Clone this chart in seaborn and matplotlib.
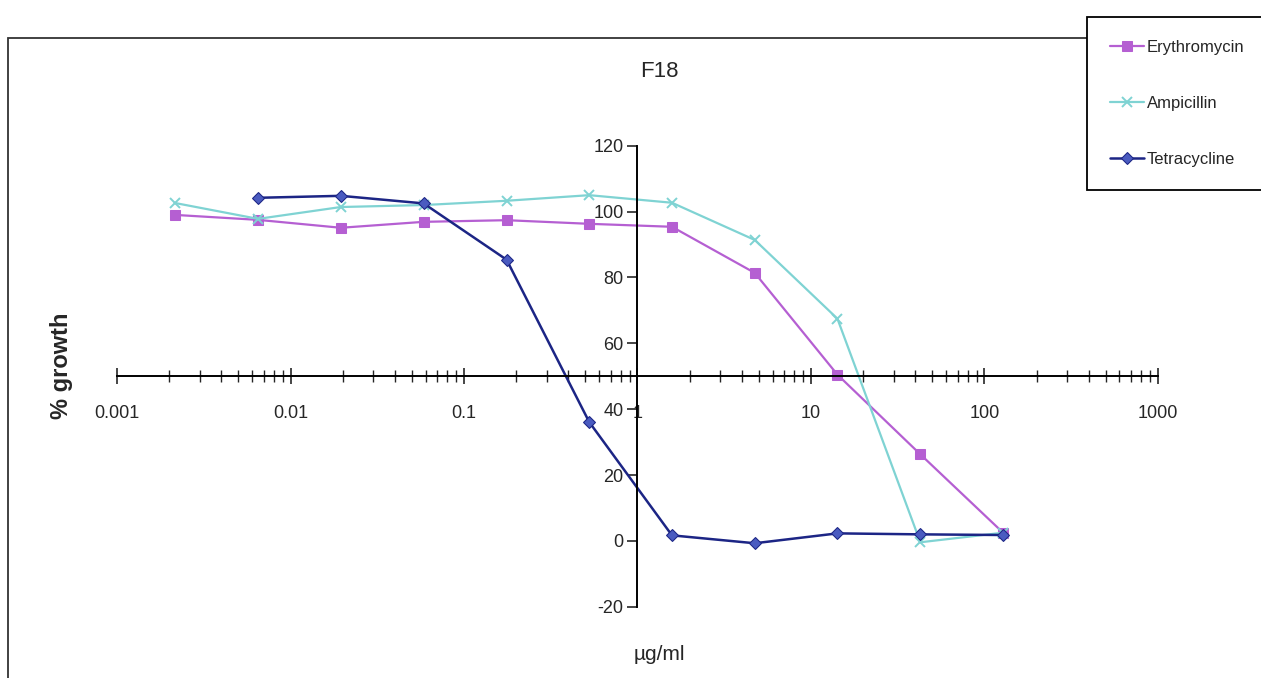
import numpy as np
import pandas as pd
import seaborn as sns
import matplotlib.pyplot as plt
from matplotlib.patches import Rectangle
from matplotlib.ticker import LogLocator, FixedLocator, NullFormatter

# serial 3-fold dilutions, ug/ml
conc = [128, 42.7, 14.2, 4.74, 1.58, 0.527, 0.176, 0.0585, 0.0195, 0.0065, 0.00217]

erythromycin = [2.5, 26.3, 50.5, 81.4, 95.4, 96.3, 97.4, 96.9, 95.1, 97.5, 99.0]
ampicillin = [2.5, -0.4, 67.5, 91.4, 102.7, 105.0, 103.3, 102.0, 101.4, 97.8, 102.6]
tetracycline = [1.8, 2.0, 2.3, -0.7, 1.7, 36.1, 85.4, 102.5, 104.8, 104.2]

x_ticks = [0.001, 0.01, 0.1, 1, 10, 100, 1000]
x_labels = ["0.001", "0.01", "0.1", "1", "10", "100", "1000"]
y_ticks = [-20, 0, 20, 40, 60, 80, 100, 120]

sns.set_style("white")
plt.rcParams['font.family'] = ['Liberation Sans', 'DejaVu Sans']
plt.rcParams['axes.unicode_minus'] = False

fig = plt.figure(figsize=(12.61, 6.78), dpi=100)
ax = fig.add_axes([0.0928, 0.105, 0.8255, 0.68])

# chart-area border (Excel style)
fig.patches.append(Rectangle((8 / 1261, -0.2), 1.2, 1.2 - 38 / 678,
                             transform=fig.transFigure, fill=False,
                             edgecolor="#333333", linewidth=1.3, zorder=0))

sns.lineplot(x=conc, y=erythromycin, ax=ax, color="#B55FD2", marker="s",
             markersize=7, markeredgecolor="#B55FD2", linewidth=1.6, label="Erythromycin")
sns.lineplot(x=conc, y=ampicillin, ax=ax, color="#7FD3D3", marker="x",
             markersize=7, markeredgewidth=1.4, markeredgecolor="#7FD3D3",
             linewidth=1.6, label="Ampicillin")
sns.lineplot(x=conc[:len(tetracycline)], y=tetracycline, ax=ax, color="#1C2585",
             marker="D", markersize=6, markerfacecolor="#4A5BC0", markeredgecolor="#1C2585",
             linewidth=1.8, label="Tetracycline")

ax.set_xscale("log")
ax.set_xlim(0.001, 1000)
ax.set_ylim(-20, 120)

# axes crossing like the Excel chart
ax.spines["left"].set_position(("data", 1))
ax.spines["bottom"].set_position(("data", 50))
ax.spines["top"].set_visible(False)
ax.spines["right"].set_visible(False)
for s in ["left", "bottom"]:
    ax.spines[s].set_color("black")
    ax.spines[s].set_linewidth(1.4)

ax.xaxis.set_major_locator(FixedLocator(x_ticks))
ax.set_xticklabels(x_labels)
ax.xaxis.set_minor_locator(LogLocator(base=10, subs=np.arange(2, 10), numticks=20))
ax.xaxis.set_minor_formatter(NullFormatter())
ax.tick_params(axis="x", which="major", direction="inout", length=12, width=1.2,
               pad=15, labelsize=13, bottom=True)
ax.tick_params(axis="x", which="minor", direction="inout", length=9, width=1.0, bottom=True)

ax.set_yticks(y_ticks)
ax.tick_params(axis="y", direction="out", length=7, width=1.2, labelsize=13, left=True, pad=3)

ax.set_xlabel("")
ax.set_ylabel("")
ax.grid(False)
ax.set_facecolor("none")

fig.text(0.523, 0.894, "F18", ha="center", va="center", fontsize=16)
fig.text(0.523, 0.034, "µg/ml", ha="center", va="center", fontsize=15)
fig.text(0.049, 0.46, "% growth", rotation=90, ha="center", va="center",
         fontsize=17, fontweight="bold")

ax.legend_.remove()
handles, labels = ax.get_legend_handles_labels()
leg = fig.legend(handles, labels, loc="upper left", bbox_to_anchor=(0.862, 0.975),
                 frameon=True, fancybox=False, edgecolor="black", framealpha=1,
                 fontsize=12, labelspacing=2.45, handlelength=2.0, handletextpad=0.2,
                 borderpad=1.4, borderaxespad=0)
leg.get_frame().set_linewidth(1.3)

fig.savefig("out.png", dpi=100)
